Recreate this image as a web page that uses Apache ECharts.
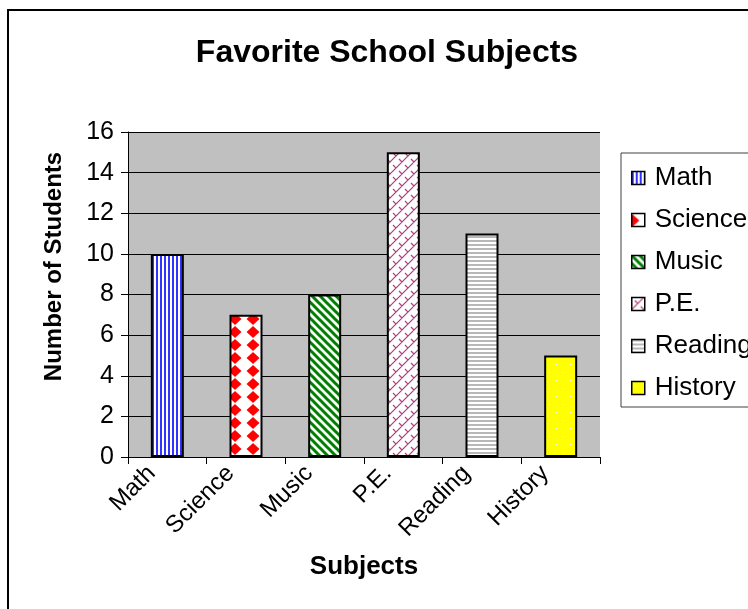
<!DOCTYPE html>
<html>
<head>
<meta charset="utf-8">
<script src="https://cdn.jsdelivr.net/npm/echarts@6/dist/echarts.min.js"></script>
<style>
html,body{margin:0;padding:0;background:#fff;}
#chart{width:748px;height:609px;}
</style>
</head>
<body>
<div id="chart"></div>
<script>
var categories = ['Math', 'Science', 'Music', 'P.E.', 'Reading', 'History'];
var values = [10, 7, 8, 15, 11, 5];
var yTicks = [0, 2, 4, 6, 8, 10, 12, 14, 16];
var titleText = 'Favorite School Subjects';
var xName = 'Subjects';
var yName = 'Number of Students';

function makeTile(w, h, draw) {
  var c = document.createElement('canvas');
  c.width = w; c.height = h;
  var ctx = c.getContext('2d');
  ctx.fillStyle = '#ffffff';
  ctx.fillRect(0, 0, w, h);
  draw(ctx, w, h);
  return { image: c, repeat: 'repeat' };
}

function diamond(ctx, cx, cy, rx, ry) {
  ctx.beginPath();
  ctx.moveTo(cx, cy - ry); ctx.lineTo(cx + rx, cy); ctx.lineTo(cx, cy + ry); ctx.lineTo(cx - rx, cy);
  ctx.closePath(); ctx.fill();
}

var patterns = [
  // Math: blue vertical stripes
  makeTile(4, 4, function (ctx) {
    ctx.fillStyle = '#3333ff';
    ctx.fillRect(0, 0, 2, 4);
  }),
  // Science: red diamonds
  makeTile(18, 13, function (ctx) {
    ctx.fillStyle = '#ff0000';
    diamond(ctx, 1, 7, 6.5, 6);
    diamond(ctx, 19, 7, 6.5, 6);
    diamond(ctx, 1, -6, 6.5, 6);
    diamond(ctx, 19, -6, 6.5, 6);
  }),
  // Music: green diagonal stripes
  makeTile(8, 8, function (ctx) {
    ctx.strokeStyle = '#008000';
    ctx.lineWidth = 3;
    ctx.beginPath();
    ctx.moveTo(-2, -2); ctx.lineTo(10, 10);
    ctx.moveTo(-10, -2); ctx.lineTo(2, 10);
    ctx.moveTo(6, -2); ctx.lineTo(18, 10);
    ctx.stroke();
  }),
  // P.E.: diagonal brick
  makeTile(12, 12, function (ctx) {
    ctx.strokeStyle = '#b03c78';
    ctx.lineWidth = 1.2;
    ctx.beginPath();
    ctx.moveTo(-1, 13); ctx.lineTo(13, -1);
    ctx.moveTo(-7, 7); ctx.lineTo(7, -7);
    ctx.moveTo(5, 19); ctx.lineTo(19, 5);
    ctx.moveTo(3, 3); ctx.lineTo(6, 6);
    ctx.moveTo(9, 9); ctx.lineTo(12, 12);
    ctx.stroke();
  }),
  // Reading: gray horizontal stripes
  makeTile(4, 4, function (ctx) {
    ctx.fillStyle = '#b8b8b8';
    ctx.fillRect(0, 0, 4, 2);
  }),
  // History: yellow with white dots
  makeTile(14, 16, function (ctx) {
    ctx.fillStyle = '#ffff00';
    ctx.fillRect(0, 0, 14, 16);
    ctx.fillStyle = '#ffffff';
    ctx.fillRect(3, 4, 1, 1);
    ctx.fillRect(10, 12, 1, 1);
  })
];

var FONT = '"Liberation Sans", Arial, sans-serif';

var series = categories.map(function (name, i) {
  var data = categories.map(function (c, j) { return j === i ? values[i] : '-'; });
  return {
    name: name,
    type: 'bar',
    stack: 'all',
    barWidth: 33,
    data: data,
    itemStyle: {
      color: patterns[i],
      borderColor: '#000000',
      borderWidth: 2
    },
    emphasis: { disabled: true },
    animation: false
  };
});

var chart = echarts.init(document.getElementById('chart'), null, { renderer: 'canvas' });
chart.setOption({
  animation: false,
  backgroundColor: '#ffffff',
  textStyle: { fontFamily: FONT },
  title: {
    text: titleText,
    left: 387,
    textAlign: 'center',
    top: 37,
    padding: 0,
    textStyle: { fontFamily: FONT, fontSize: 32, fontWeight: 'bold', color: '#000' }
  },
  graphic: [{
    type: 'rect',
    shape: { x: 8, y: 10, width: 800, height: 700 },
    style: { fill: 'none', stroke: '#000', lineWidth: 2 },
    z: -10,
    silent: true
  }],
  legend: {
    orient: 'vertical',
    left: 621,
    top: 153,
    padding: [12, 10, 6, 10],
    icon: 'rect',
    itemWidth: 13,
    itemHeight: 13,
    itemGap: 16,
    borderColor: '#404040',
    borderWidth: 1,
    backgroundColor: '#ffffff',
    data: categories,
    itemStyle: { borderColor: '#000', borderWidth: 1.5 },
    textStyle: { fontFamily: FONT, fontSize: 26, color: '#000', padding: [0, 0, 0, 5] },
    selectedMode: false
  },
  grid: {
    left: 128, right: 148, top: 132, bottom: 152,
    show: true, backgroundColor: '#c0c0c0', borderWidth: 0
  },
  xAxis: {
    type: 'category',
    data: categories,
    name: xName,
    nameLocation: 'middle',
    nameGap: 97,
    nameTextStyle: { fontFamily: FONT, fontSize: 26, fontWeight: 'bold', color: '#000' },
    axisLine: { lineStyle: { color: '#000', width: 1 } },
    axisTick: { show: true, length: 7, lineStyle: { color: '#000' }, alignWithLabel: false },
    axisLabel: { rotate: 45, interval: 0, margin: 14, fontFamily: FONT, fontSize: 24, color: '#000', verticalAlign: 'bottom', padding: [0, 10, 0, 0] }
  },
  yAxis: {
    type: 'value',
    min: yTicks[0],
    max: yTicks[yTicks.length - 1],
    interval: yTicks[1] - yTicks[0],
    name: yName,
    nameLocation: 'middle',
    nameGap: 62,
    nameTextStyle: { fontFamily: FONT, fontSize: 24, fontWeight: 'bold', color: '#000', padding: [0, 0, 0, 56] },
    axisLine: { show: true, lineStyle: { color: '#000', width: 1 } },
    axisTick: { show: true, length: 7, lineStyle: { color: '#000' } },
    axisLabel: { margin: 14, fontFamily: FONT, fontSize: 25, color: '#000' },
    splitLine: { show: true, lineStyle: { color: '#000', width: 1 } }
  },
  series: series
});
</script>
</body>
</html>
